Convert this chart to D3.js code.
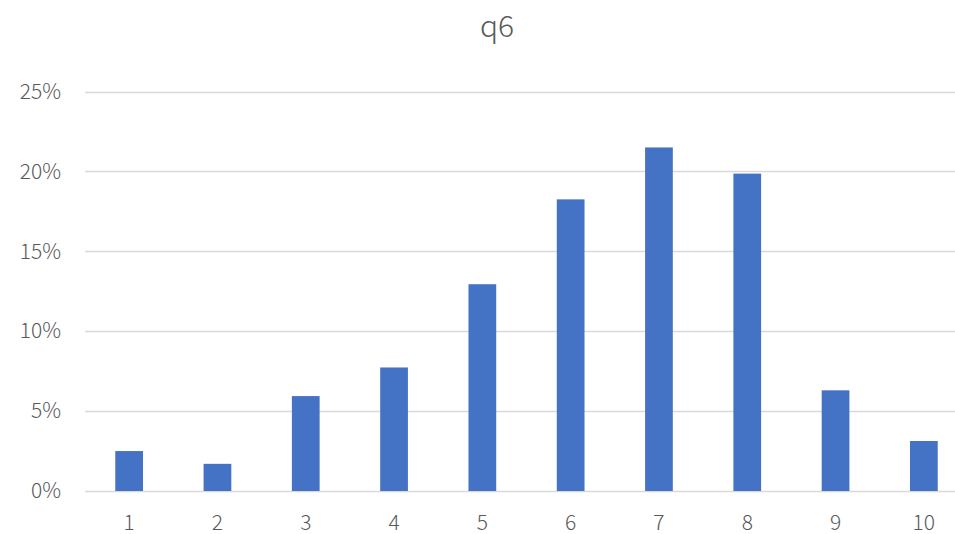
<!DOCTYPE html>
<html>
<head>
<meta charset="utf-8">
<script src="https://cdn.jsdelivr.net/npm/d3@7"></script>
<style>
  html, body { margin: 0; padding: 0; background: #fff; }
  svg { display: block; }
  text { font-family: "Noto Sans CJK JP", "Noto Sans", sans-serif; fill: #595959; font-weight: 300; }
</style>
</head>
<body>
<svg id="chart" width="955" height="534"></svg>
<script>
// q6 response distribution (share of respondents per score)
const categories = ["1", "2", "3", "4", "5", "6", "7", "8", "9", "10"];
const shares = [0.025, 0.017, 0.0594, 0.0773, 0.1294, 0.1825, 0.215, 0.1986, 0.063, 0.0313];
const yTicks = [0, 0.05, 0.10, 0.15, 0.20, 0.25];
const title = "q6";

const svg = d3.select("#chart");
const margin = { left: 85, right: -13, top: 91.5, bottom: 43 };
const W = 955, H = 534;

const x = d3.scaleBand()
  .domain(categories)
  .range([margin.left, W - margin.right])
  .paddingInner(0.686)
  .paddingOuter(0.343);

const y = d3.scaleLinear()
  .domain([0, 0.25])
  .range([H - margin.bottom, margin.top]);

// horizontal gridlines
svg.append("g")
  .selectAll("line")
  .data(yTicks)
  .join("line")
  .attr("x1", margin.left)
  .attr("x2", W - margin.right)
  .attr("y1", d => Math.round(y(d)) + 0.5)
  .attr("y2", d => Math.round(y(d)) + 0.5)
  .attr("stroke", "#D9D9D9")
  .attr("stroke-width", 1.3);

// bars
svg.append("g")
  .selectAll("rect")
  .data(shares)
  .join("rect")
  .attr("x", (d, i) => x(categories[i]))
  .attr("width", x.bandwidth())
  .attr("y", d => y(d))
  .attr("height", d => y(0) - y(d))
  .attr("fill", "#4472C4");

// y axis labels
const yAxis = d3.axisLeft(y)
  .tickValues(yTicks)
  .tickFormat(d3.format(".0%"))
  .tickSize(0)
  .tickPadding(0);
const gy = svg.append("g")
  .attr("transform", `translate(61,0)`)
  .call(yAxis);
gy.select(".domain").remove();
gy.selectAll("text")
  .attr("font-size", 21)
  .attr("font-family", null)
  .attr("fill", "#595959");

// x axis labels
const xAxis = d3.axisBottom(x).tickSize(0).tickPadding(0);
const gx = svg.append("g")
  .attr("transform", `translate(0,${H - margin.bottom + 24})`)
  .call(xAxis);
gx.select(".domain").remove();
gx.selectAll("text")
  .attr("font-size", 21)
  .attr("font-family", null)
  .attr("fill", "#595959");

// title
svg.append("text")
  .attr("x", 497)
  .attr("y", 37)
  .attr("text-anchor", "middle")
  .attr("font-size", 30)
  .text(title);
</script>
</body>
</html>
